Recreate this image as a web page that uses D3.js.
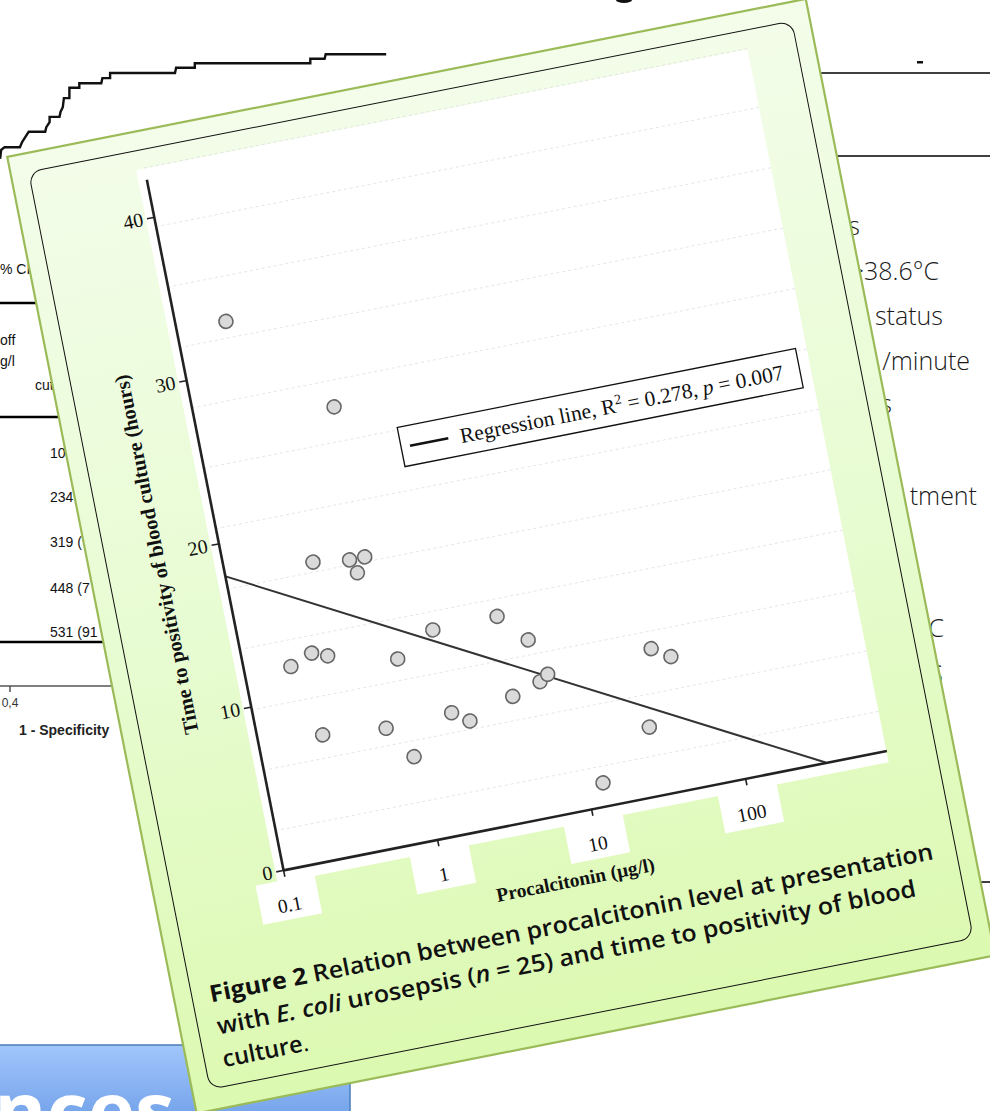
<!DOCTYPE html>
<html><head><meta charset="utf-8">
<title>Procalcitonin and time to positivity</title>
<script src="https://cdnjs.cloudflare.com/ajax/libs/d3/7.8.5/d3.min.js"></script>
<style>
body { margin: 0; background: #fff; }
svg { display: block; }
.serif { font-family: "Times New Roman", "Liberation Serif", serif; }
.sans { font-family: "Open Sans", "Noto Sans", sans-serif; }
.arial { font-family: Arial, "Liberation Sans", sans-serif; }
</style>
</head><body>
<div id="chart"></div>
<script>
// Figure 2: procalcitonin at presentation (µg/l) vs time to positivity (hours), n = 25
const pct = [0.21, 0.78, 0.37, 0.63, 0.79, 0.68, 0.20, 0.28, 0.35, 0.26, 0.95, 0.66, 0.91,
             1.71, 1.77, 2.25, 4.48, 6.55, 4.47, 6.9, 7.87, 12.8, 37.5, 48.7, 29.2];
const ttp = [33.0, 26.7, 17.8, 17.5, 17.5, 16.65, 11.9, 12.45, 12.1, 7.5, 11.1, 7.15, 5.15,
             12.4, 7.3, 6.6, 12.45, 10.7, 7.55, 8.1, 8.45, 1.4, 8.75, 8.05, 4.15];

// regression line end points (x at 0.1 and where it meets 0 h)
const regX = [0.1, 334];
const regY = [18.0, 0];

const xTicks = [0.1, 1, 10, 100];
const xTickLabels = ["0.1", "1", "10", "100"];
const yTicks = [0, 10, 20, 30, 40];
// faint dashed background rules of the original figure (hours)
const gridHours = [2.4, 6.1, 9.8, 13.5, 17.2, 20.9, 24.6, 28.3, 32.0, 35.7, 39.4, 43.0];

// ROC curve of the slide behind the card (1 - specificity, sensitivity)
const rocFpr = [0.391, 0.392, 0.395, 0.409, 0.411, 0.414, 0.417, 0.432, 0.433, 0.436, 0.436, 0.445,
                0.446, 0.448, 0.449, 0.454, 0.454, 0.463, 0.463, 0.483, 0.484, 0.491, 0.491, 0.550,
                0.551, 0.568, 0.568, 0.673, 0.673, 0.686, 0.687, 0.742];
const rocSens = [0.816, 0.830, 0.834, 0.834, 0.842, 0.850, 0.858, 0.858, 0.865, 0.873, 0.881, 0.881,
                 0.889, 0.896, 0.910, 0.910, 0.926, 0.926, 0.933, 0.933, 0.941, 0.941, 0.949, 0.949,
                 0.957, 0.957, 0.964, 0.964, 0.971, 0.971, 0.978, 0.978];

const W = 990, H = 1111;
const svg = d3.select("#chart").append("svg").attr("width", W).attr("height", H);
const defs = svg.append("defs");

const cardGrad = defs.append("linearGradient").attr("id", "cardFill")
  .attr("gradientUnits", "userSpaceOnUse").attr("x1", 0).attr("y1", -753).attr("x2", 0).attr("y2", 222);
cardGrad.append("stop").attr("offset", 0).attr("stop-color", "#f3fdea");
cardGrad.append("stop").attr("offset", 0.5).attr("stop-color", "#e8fcd3");
cardGrad.append("stop").attr("offset", 1).attr("stop-color", "#dcf9b1");

const bannerGrad = defs.append("linearGradient").attr("id", "bannerFill")
  .attr("x1", 0).attr("y1", 0).attr("x2", 0).attr("y2", 1);
bannerGrad.append("stop").attr("offset", 0).attr("stop-color", "#a2c6fc");
bannerGrad.append("stop").attr("offset", 1).attr("stop-color", "#6f9fe8");

// ---------- slide behind the card ----------
const bg = svg.append("g");

const rocX = d3.scaleLinear().domain([0.4, 0.8]).range([10, 450]);
const rocY = d3.scaleLinear().domain([0, 1]).range([686, 40]);

bg.append("path")
  .datum(d3.zip(rocFpr, rocSens))
  .attr("d", d3.line().x(d => rocX(d[0])).y(d => rocY(d[1])))
  .attr("fill", "none").attr("stroke", "#111").attr("stroke-width", 2.4);

bg.append("line").attr("x1", 0).attr("x2", 140).attr("y1", rocY(0)).attr("y2", rocY(0))
  .attr("stroke", "#555").attr("stroke-width", 1.5);
bg.append("line").attr("x1", rocX(0.4)).attr("x2", rocX(0.4)).attr("y1", rocY(0)).attr("y2", rocY(0) + 6)
  .attr("stroke", "#555").attr("stroke-width", 1.5);
bg.append("text").attr("class", "arial").attr("x", rocX(0.4)).attr("y", 707)
  .attr("text-anchor", "middle").attr("font-size", 12).attr("fill", "#333").text("0,4");
bg.append("text").attr("class", "arial").attr("x", 19).attr("y", 735)
  .attr("font-size", 14).attr("font-weight", "bold").attr("fill", "#222").text("1 - Specificity");

// table fragments on the left
[303, 417, 642].forEach(yy => {
  bg.append("line").attr("x1", 0).attr("x2", 150).attr("y1", yy).attr("y2", yy)
    .attr("stroke", "#000").attr("stroke-width", 2.6);
});
const leftTexts = [
  { t: "% CI", x: 0, y: 274 },
  { t: "off", x: 0, y: 345 },
  { t: "g/l", x: 0, y: 366 },
  { t: "cut", x: 35, y: 390 },
  { t: "105 (", x: 50, y: 458 },
  { t: "234 (", x: 50, y: 502 },
  { t: "319 (", x: 50, y: 547 },
  { t: "448 (7", x: 50, y: 593 },
  { t: "531 (91", x: 50, y: 637 }
];
bg.selectAll(".lt").data(leftTexts).join("text").attr("class", "arial")
  .attr("x", d => d.x).attr("y", d => d.y)
  .attr("font-size", 14).attr("fill", "#111").text(d => d.t);

// table fragments on the right
[[780, 73], [780, 156], [940, 882]].forEach(([x0, yy]) => {
  bg.append("line").attr("x1", x0).attr("x2", W).attr("y1", yy).attr("y2", yy)
    .attr("stroke", "#000").attr("stroke-width", 1.3);
});
bg.append("rect").attr("x", 917).attr("y", 61).attr("width", 6).attr("height", 2.5).attr("fill", "#111");
// glyph tail of a title cut by the top edge
bg.append("ellipse").attr("cx", 624).attr("cy", 0).attr("rx", 8).attr("ry", 3).attr("fill", "#111");

const rightTexts = [
  { t: "s", x: 860, y: 235 },
  { t: ">38.6°C", x: 939, y: 280 },
  { t: "status", x: 943, y: 325 },
  { t: "/minute", x: 970, y: 370 },
  { t: "s", x: 892, y: 413 },
  { t: "tment", x: 977, y: 505 },
  { t: "C", x: 944, y: 637 },
  { t: "S", x: 943, y: 683 }
];
bg.selectAll(".rt").data(rightTexts).join("text").attr("class", "sans")
  .attr("x", d => d.x).attr("y", d => d.y).attr("text-anchor", "end")
  .attr("font-size", 25).attr("font-weight", 300).attr("fill", "#1a1a1a").text(d => d.t);

// blue banner bottom left
bg.append("rect").attr("x", -2).attr("y", 1045).attr("width", 352).attr("height", 80)
  .attr("fill", "url(#bannerFill)").attr("stroke", "#4a7ebb").attr("stroke-width", 1.5);
bg.append("text").attr("class", "sans").attr("x", -6).attr("y", 1140)
  .attr("font-size", 80).attr("font-weight", 700).attr("fill", "#fff").text("nces");

// ---------- the tilted figure card ----------
const card = svg.append("g").attr("transform", "translate(283,870) rotate(-11.2)");

card.append("rect").attr("x", -132).attr("y", -753).attr("width", 814).attr("height", 975)
  .attr("fill", "url(#cardFill)").attr("stroke", "#9bbb59").attr("stroke-width", 2.2);
card.append("rect").attr("x", -114).attr("y", -734).attr("width", 778).attr("height", 935)
  .attr("rx", 13).attr("fill", "none").attr("stroke", "#111").attr("stroke-width", 1);

const x = d3.scaleLog().domain([0.1, 826]).range([0, 615]);
const y = d3.scaleLinear().domain([0, 42.3]).range([0, -704]);

// white figure area and tick label patches
card.append("rect").attr("x", -8).attr("y", -715).attr("width", 623).attr("height", 727).attr("fill", "#fff");
card.selectAll(".tickbox").data(xTicks).join("rect")
  .attr("x", d => x(d) - 30).attr("y", 10).attr("width", 60).attr("height", 40).attr("fill", "#fff");

// faint dashed rules
card.selectAll(".grid").data(gridHours).join("line")
  .attr("x1", 0).attr("x2", 615).attr("y1", d => y(d)).attr("y2", d => y(d))
  .attr("stroke", "#dcdcdc").attr("stroke-width", 0.7).attr("stroke-dasharray", "3,3");

// regression line
card.append("path")
  .datum(d3.zip(regX, regY))
  .attr("d", d3.line().x(d => x(d[0])).y(d => y(d[1])))
  .attr("fill", "none").attr("stroke", "#333").attr("stroke-width", 2);

// points
card.selectAll(".pt").data(d3.zip(pct, ttp)).join("circle")
  .attr("cx", d => x(d[0])).attr("cy", d => y(d[1])).attr("r", 7)
  .attr("fill", "#dadada").attr("stroke", "#666").attr("stroke-width", 1.6);

// axes
const xAxis = card.append("g")
  .call(d3.axisBottom(x).tickValues(xTicks).tickFormat("").tickSize(7).tickSizeOuter(0));
const yAxis = card.append("g")
  .call(d3.axisLeft(y).tickValues(yTicks).tickSize(7).tickSizeOuter(0));
[xAxis, yAxis].forEach(g => {
  g.select(".domain").attr("stroke", "#222").attr("stroke-width", 2.6);
  g.selectAll(".tick line").attr("stroke", "#222").attr("stroke-width", 1.6);
});
yAxis.selectAll(".tick text").attr("class", "serif").attr("font-size", 20).attr("fill", "#111")
  .attr("x", -11);

card.selectAll(".xlab").data(xTicks).join("text").attr("class", "serif")
  .attr("x", d => x(d)).attr("y", 42).attr("text-anchor", "middle")
  .attr("font-size", 19.5).attr("fill", "#111")
  .text((d, i) => xTickLabels[i]);

// axis titles
card.append("text").attr("class", "serif")
  .attr("transform", "translate(-56,-334) rotate(-90)").attr("text-anchor", "middle")
  .attr("font-size", 20.5).attr("font-weight", "bold").attr("fill", "#111")
  .text("Time to positivity of blood culture (hours)");
card.append("text").attr("class", "serif").attr("x", 285).attr("y", 73)
  .attr("text-anchor", "middle").attr("font-size", 19.5).attr("font-weight", "bold").attr("fill", "#111")
  .text("Procalcitonin (µg/l)");

// legend
const leg = card.append("g");
leg.append("rect").attr("x", 198).attr("y", -412).attr("width", 406).attr("height", 40)
  .attr("fill", "#fff").attr("stroke", "#111").attr("stroke-width", 1.3);
leg.append("line").attr("x1", 207).attr("x2", 246).attr("y1", -391.5).attr("y2", -391.5)
  .attr("stroke", "#111").attr("stroke-width", 2.6);
const lt = leg.append("text").attr("class", "serif").attr("x", 258).attr("y", -384)
  .attr("font-size", 21.5).attr("fill", "#111");
lt.append("tspan").text("Regression line, R");
lt.append("tspan").attr("font-size", 14).attr("dy", -8).text("2");
lt.append("tspan").attr("dy", 8).text(" = 0.278, ");
lt.append("tspan").attr("font-style", "italic").text("p");
lt.append("tspan").text(" = 0.007");

// caption
const cap = card.append("g").attr("class", "sans").attr("fill", "#111").attr("font-size", 23.5);
const l1 = cap.append("text").attr("x", -96).attr("y", 116).attr("textLength", 737).attr("lengthAdjust", "spacingAndGlyphs");
l1.append("tspan").attr("font-weight", 700).text("Figure 2");
l1.append("tspan").attr("font-weight", 600).text(" Relation between procalcitonin level at presentation");
const l2 = cap.append("text").attr("x", -95).attr("y", 149).attr("font-weight", 600)
  .attr("textLength", 712).attr("lengthAdjust", "spacingAndGlyphs");
l2.append("tspan").text("with ");
l2.append("tspan").attr("font-style", "italic").text("E. coli");
l2.append("tspan").text(" urosepsis (");
l2.append("tspan").attr("font-style", "italic").text("n");
l2.append("tspan").text(" = 25) and time to positivity of blood");
const l3 = cap.append("text").attr("x", -96).attr("y", 182);
l3.append("tspan").attr("font-weight", 600).text("culture");
l3.append("tspan").attr("font-weight", 400).text(".");
</script>
</body></html>
